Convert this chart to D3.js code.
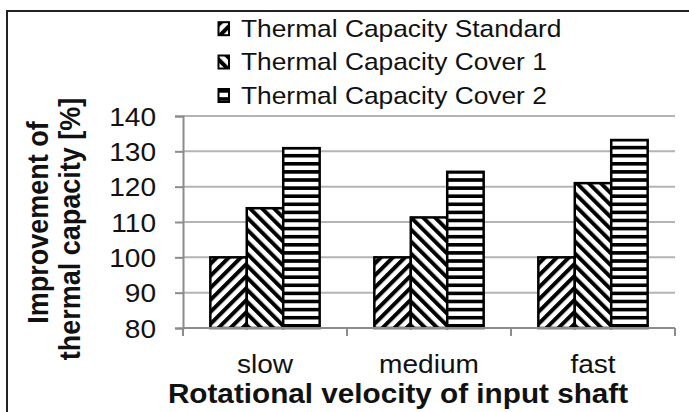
<!DOCTYPE html>
<html>
<head>
<meta charset="utf-8">
<script src="https://cdn.jsdelivr.net/npm/d3@7/dist/d3.min.js"></script>
<style>
  html, body { margin: 0; padding: 0; background: #fff; }
  svg { display: block; }
  text { font-family: "Liberation Sans", Arial, sans-serif; fill: #111; }
</style>
</head>
<body>
<svg id="chart" width="689" height="412"></svg>
<script>
// Data
const categories = ["slow", "medium", "fast"];
const seriesNames = ["Thermal Capacity Standard", "Thermal Capacity Cover 1", "Thermal Capacity Cover 2"];
const standardValues = [100, 100, 100];
const cover1Values = [113.9, 111.3, 121];
const cover2Values = [130.9, 124.2, 133.2];
const yTicks = [80, 90, 100, 110, 120, 130, 140];
const xTitle = "Rotational velocity of input shaft";
const yTitleLines = ["Improvement of", "thermal capacity [%]"];

const seriesValues = [standardValues, cover1Values, cover2Values];
const patternIds = ["hatchUp", "hatchDown", "hatchHoriz"];

const svg = d3.select("#chart");
const SX = 1.08; // horizontal text stretch

// Hatch patterns
const defs = svg.append("defs");
function diag(id, angle) {
  const p = defs.append("pattern")
    .attr("id", id)
    .attr("patternUnits", "userSpaceOnUse")
    .attr("width", 8.5).attr("height", 8.5)
    .attr("patternTransform", `rotate(${angle})`);
  p.append("rect").attr("width", 8.5).attr("height", 8.5).attr("fill", "#fff");
  p.append("rect").attr("x", 0).attr("width", 4).attr("height", 8.5).attr("fill", "#000");
}
diag("hatchUp", 45);
diag("hatchDown", -45);
const ph = defs.append("pattern")
  .attr("id", "hatchHoriz")
  .attr("patternUnits", "userSpaceOnUse")
  .attr("width", 8).attr("height", 8.1);
ph.append("rect").attr("width", 8).attr("height", 8.1).attr("fill", "#fff");
ph.append("rect").attr("y", 0).attr("width", 8).attr("height", 3.6).attr("fill", "#000");

// Outer frame
svg.append("rect")
  .attr("x", 7).attr("y", 11).attr("width", 720).attr("height", 440)
  .attr("fill", "none").attr("stroke", "#222").attr("stroke-width", 2);

// Scales
const plotLeft = 183, plotRight = 675, plotTop = 116, plotBottom = 328;
const y = d3.scaleLinear().domain([80, 140]).range([plotBottom, plotTop]);
const x0 = d3.scaleBand().domain(categories).range([plotLeft, plotRight]).padding(0);
const x1 = d3.scaleBand().domain(d3.range(seriesNames.length))
  .range([0, x0.bandwidth()]).paddingInner(0).paddingOuter(0.75);

// Gridlines
svg.append("g").selectAll("line").data(yTicks.filter(d => d !== 80)).join("line")
  .attr("x1", plotLeft).attr("x2", plotRight)
  .attr("y1", d => y(d)).attr("y2", d => y(d))
  .attr("stroke", "#b4b4b4").attr("stroke-width", 2);

// Bars
const groups = svg.append("g").selectAll("g").data(categories).join("g")
  .attr("transform", d => `translate(${x0(d)},0)`);
groups.selectAll("rect")
  .data((c, ci) => seriesValues.map((vals, si) => ({ si, v: vals[ci] })))
  .join("rect")
  .attr("x", d => x1(d.si))
  .attr("width", x1.bandwidth())
  .attr("y", d => y(d.v))
  .attr("height", d => y(80) - y(d.v))
  .attr("fill", d => `url(#${patternIds[d.si]})`)
  .attr("stroke", "#000").attr("stroke-width", 2.5);

// Y axis
const yAxis = svg.append("g").attr("transform", `translate(${plotLeft},0)`)
  .call(d3.axisLeft(y).tickValues(yTicks).tickSize(8).tickFormat(""));
yAxis.select(".domain").attr("stroke", "#8c8c8c").attr("stroke-width", 2);
yAxis.selectAll(".tick line").attr("stroke", "#8c8c8c").attr("stroke-width", 2);

// X axis with ticks at category boundaries
const xAxis = svg.append("g").attr("transform", `translate(0,${plotBottom})`);
xAxis.append("line").attr("x1", plotLeft).attr("x2", plotRight)
  .attr("stroke", "#8c8c8c").attr("stroke-width", 2);
const boundaries = categories.map(c => x0(c)).concat([x0(categories[categories.length - 1]) + x0.bandwidth()]);
xAxis.selectAll("line.tk").data(boundaries).join("line").attr("class", "tk")
  .attr("x1", d => d).attr("x2", d => d).attr("y1", 0).attr("y2", 8)
  .attr("stroke", "#8c8c8c").attr("stroke-width", 2);

// Stretched text helper
function label(x, yy, str, size, anchor, weight) {
  svg.append("text")
    .attr("transform", `translate(${x},${yy}) scale(${SX},1)`)
    .attr("text-anchor", anchor)
    .attr("font-size", size)
    .attr("font-weight", weight || "normal")
    .text(str);
}

// Tick labels
yTicks.forEach(t => label(156, y(t) + 9.5, String(t), 26, "end"));

// Category labels
categories.forEach(c => label(x0(c) + x0.bandwidth() / 2, 373, c, 26, "middle"));

// X title
label(398, 403, xTitle, 27.5, "middle", "bold");

// Y title (two lines, rotated)
const yTitleX = [48, 80];
const yTitleY = [222.5, 229];
yTitleLines.forEach((line, i) => {
  svg.append("text")
    .attr("transform", `translate(${yTitleX[i]},${yTitleY[i]}) scale(${SX},1) rotate(-90)`)
    .attr("text-anchor", "middle")
    .attr("font-size", 27)
    .attr("font-weight", "bold")
    .text(line);
});

// Legend
const legendRows = [36.7, 70, 103.5];
seriesNames.forEach((name, i) => {
  svg.append("rect")
    .attr("x", 218.5).attr("y", legendRows[i] - 14.5)
    .attr("width", 10.5).attr("height", 13)
    .attr("fill", `url(#${patternIds[i]})`)
    .attr("stroke", "#000").attr("stroke-width", 2);
  label(241, legendRows[i], name, 24.4, "start");
});
</script>
</body>
</html>
